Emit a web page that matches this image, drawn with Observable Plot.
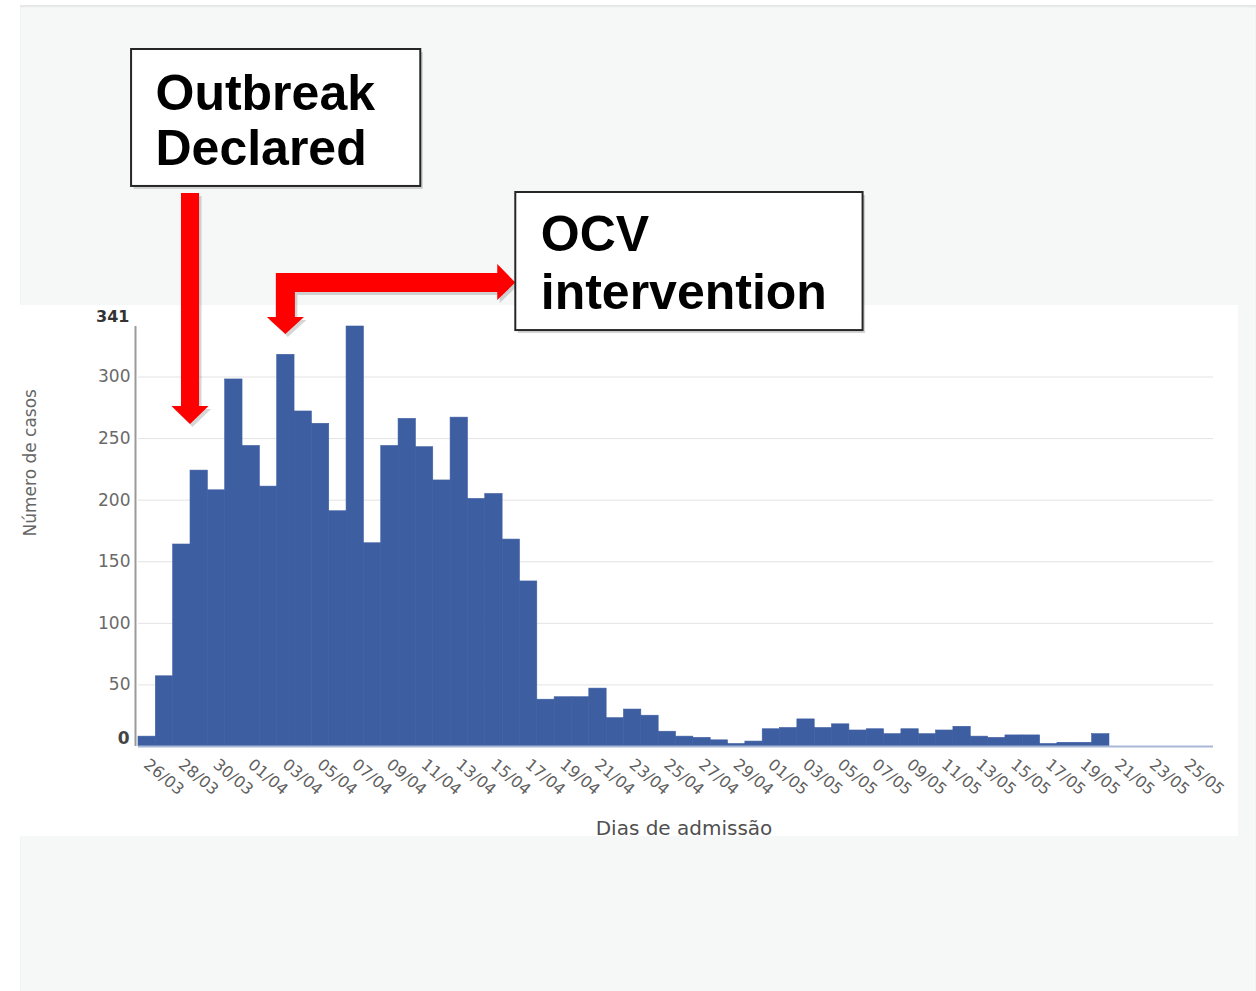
<!DOCTYPE html>
<html><head><meta charset="utf-8">
<script src="https://cdn.jsdelivr.net/npm/d3@7"></script>
<script src="https://cdn.jsdelivr.net/npm/@observablehq/plot@0.6"></script>
<style>
html,body{margin:0;padding:0;background:#fff;}
#stage{position:relative;width:1256px;height:991px;overflow:hidden;}
#slide{position:absolute;left:20px;top:5px;right:0;bottom:0;background:#f6f7f7;box-shadow:inset 0 2px 2px rgba(0,0,0,0.07);}
#panel{position:absolute;left:20px;top:305px;width:1218px;height:531px;background:#fff;}
#chart{position:absolute;left:0;top:0;}
</style></head><body>
<div id="stage"><div id="slide"></div><div id="panel"></div><div id="chart"></div></div>
<script>
// ---- data ----
const year = 2019;
const days = [
  "26/03","27/03","28/03","29/03","30/03","31/03",
  "01/04","02/04","03/04","04/04","05/04","06/04","07/04","08/04","09/04","10/04",
  "11/04","12/04","13/04","14/04","15/04","16/04","17/04","18/04","19/04","20/04",
  "21/04","22/04","23/04","24/04","25/04","26/04","27/04","28/04","29/04","30/04",
  "01/05","02/05","03/05","04/05","05/05","06/05","07/05","08/05","09/05","10/05",
  "11/05","12/05","13/05","14/05","15/05","16/05","17/05","18/05","19/05","20/05",
  "21/05","22/05","23/05","24/05","25/05"
];
const cases = [
  8,57,164,224,208,298,
  244,211,318,272,262,191,341,165,244,266,
  243,216,267,201,205,168,134,38,40,40,
  47,23,30,25,12,8,7,5,2,4,
  14,15,22,15,18,13,14,10,14,10,
  13,16,8,7,9,9,2,3,3,10,
  0,0,0,0,0
];
const tickLabels = [
  "26/03","28/03","30/03","01/04","03/04","05/04","07/04","09/04","11/04","13/04",
  "15/04","17/04","19/04","21/04","23/04","25/04","27/04","29/04","01/05","03/05",
  "05/05","07/05","09/05","11/05","13/05","15/05","17/05","19/05","21/05","23/05","25/05"
];
const yTicks = [0, 50, 100, 150, 200, 250, 300];
const yMax = 341;
const xTitle = "Dias de admissão";
const yTitle = "Número de casos";

// annotations in data units: x = days after 26/03, y = number of cases
const annoBoxes = [
  {x1: -0.40, x2: 16.28, y1: 454.7, y2: 565.9},
  {x1: 21.76, x2: 41.79, y1: 337.7, y2: 449.8}
];
const annoTexts = [
  {x: 0.98, y: 516.4, t: "Outbreak"},
  {x: 0.98, y: 472.5, t: "Declared"},
  {x: 23.2, y: 401.9, t: "OCV"},
  {x: 23.2, y: 355.6, t: "intervention"}
];
// vertical arrow parts (y is the running variable, x1..x2 the width)
const arrowVertical = [
  {id: "outbreak", y: 449,   x1: 2.48, x2: 3.52},
  {id: "outbreak", y: 276,   x1: 2.48, x2: 3.52},
  {id: "outbreak", y: 276,   x1: 1.93, x2: 4.07},
  {id: "outbreak", y: 261.4, x1: 3.0,  x2: 3.0},
  {id: "ocvDown",  y: 348.3, x1: 7.43, x2: 9.57},
  {id: "ocvDown",  y: 334.5, x1: 8.5,  x2: 8.5}
];
// horizontal arrow part (x is the running variable, y1..y2 the thickness)
const arrowHorizontal = [
  {x: 7.95,  y1: 348.3, y2: 384},
  {x: 9.05,  y1: 348.3, y2: 384},
  {x: 9.05,  y1: 368.6, y2: 384},
  {x: 20.72, y1: 368.6, y2: 384},
  {x: 20.72, y1: 362.1, y2: 391.3},
  {x: 21.76, y1: 376.3, y2: 376.3}
];

// ---- build ----
const DAY = 864e5;
const toDate = s => { const [d, m] = s.split("/").map(Number); return new Date(Date.UTC(year, m - 1, d)); };
const rows = days.map((s, i) => ({start: toDate(s), end: new Date(+toDate(s) + DAY), cases: cases[i]}));
const x0 = toDate(days[0]);
const xDomain = [x0, new Date(+toDate(days[days.length - 1]) + 2 * DAY)];
const at = d => new Date(+x0 + d * DAY);
const tickDates = tickLabels.map(s => new Date(+toDate(s) + DAY / 2));
const labelByTime = new Map(tickDates.map((d, i) => [+d, tickLabels[i]]));
const barColor = "#3e5ea2";
const red = "#ff0000";
const shadow = {fill: "#000", fillOpacity: 0.16, dx: 2.5, dy: 3};

const arrowMarks = (extra) => [
  Plot.areaX(arrowVertical, {y: "y", x1: d => at(d.x1), x2: d => at(d.x2), z: "id", curve: "linear", ...extra}),
  Plot.areaY(arrowHorizontal, {x: d => at(d.x), y1: "y1", y2: "y2", curve: "linear", ...extra})
];

const chart = Plot.plot({
  width: 1256, height: 991,
  marginLeft: 138, marginRight: 43, marginTop: 326, marginBottom: 245,
  style: {background: "transparent", fontFamily: "DejaVu Sans", overflow: "visible"},
  x: {type: "utc", domain: xDomain, axis: null},
  y: {domain: [0, yMax], axis: null},
  marks: [
    Plot.gridY(yTicks.filter(d => d > 0), {stroke: "#e3e3e3", strokeOpacity: 1}),
    Plot.rectY(rows, {x1: "start", x2: "end", y: "cases", fill: barColor, stroke: barColor, strokeWidth: 0.6, inset: 0}),
    Plot.ruleY([0], {stroke: "#a9b7d6", strokeWidth: 2}),
    Plot.ruleX([xDomain[0]], {dx: -3, stroke: "#9a9a9a", strokeWidth: 2}),
    Plot.axisY(yTicks.filter(d => d > 0), {tickSize: 0, tickPadding: 8, fontSize: 17, fill: "#6a6a6a", tickFormat: d => String(d)}),
    Plot.text([0], {y: d => d, frameAnchor: "left", dx: -9, dy: -8, text: d => String(d), textAnchor: "end", fontSize: 17, fill: "#444", fontWeight: "bold"}),
    Plot.text([yMax], {y: d => d, frameAnchor: "left", dx: -9, dy: -10, text: d => String(d), textAnchor: "end", fontSize: 16, fill: "#333", fontWeight: "bold"}),
    Plot.axisX(tickDates, {tickSize: 0, tickPadding: 11, tickRotate: 40, textAnchor: "start", lineAnchor: "top", dx: 3, fontSize: 16, fill: "#606060", tickFormat: d => labelByTime.get(+d)}),
    Plot.text([xTitle], {frameAnchor: "bottom", dx: 8, dy: 88, text: d => d, fontSize: 20, fill: "#505050"}),
    Plot.text([yTitle], {frameAnchor: "left", dx: -108, rotate: -90, text: d => d, fontSize: 17, fill: "#666"}),
    // annotations: shadows, then shapes
    ...arrowMarks(shadow),
    Plot.rect(annoBoxes, {x1: d => at(d.x1), x2: d => at(d.x2), y1: "y1", y2: "y2", fill: "#000", fillOpacity: 0.16, dx: 2.5, dy: 3}),
    ...arrowMarks({fill: red}),
    Plot.rect(annoBoxes, {x1: d => at(d.x1), x2: d => at(d.x2), y1: "y1", y2: "y2", fill: "#fff", stroke: "#262626", strokeWidth: 2}),
    Plot.text(annoTexts, {x: d => at(d.x), y: "y", text: "t", textAnchor: "start", lineAnchor: "bottom", fontSize: 50, fontWeight: "bold", fontFamily: "Liberation Sans", fill: "#000"})
  ]
});

document.getElementById("chart").appendChild(chart);
</script>
</body></html>
